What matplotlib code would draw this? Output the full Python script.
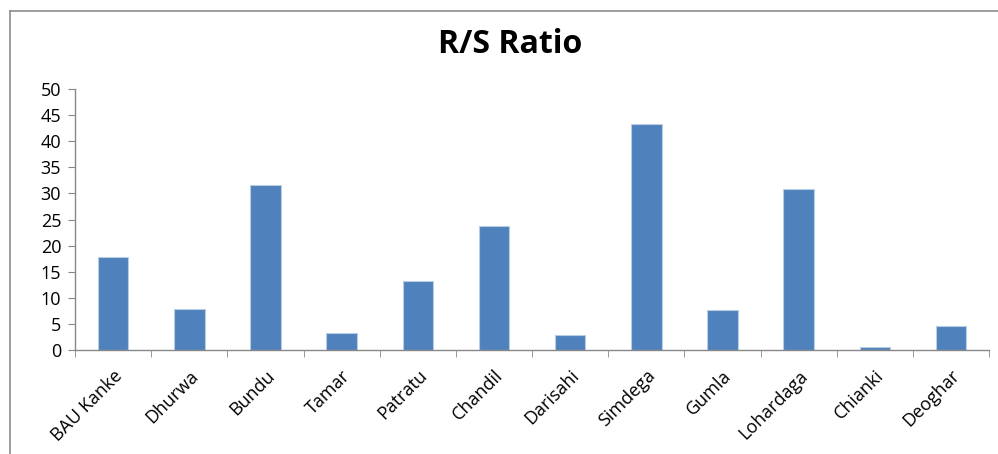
import numpy as np
import matplotlib.pyplot as plt
from matplotlib.lines import Line2D

# values
sites = ['BAU Kanke', 'Dhurwa', 'Bundu', 'Tamar', 'Patratu', 'Chandil',
         'Darisahi', 'Simdega', 'Gumla', 'Lohardaga', 'Chianki', 'Deoghar']
rs_ratio = [17.8, 7.9, 31.6, 3.3, 13.3, 23.7, 2.9, 43.3, 7.7, 30.8, 0.5, 4.6]
y_ticks = [0, 5, 10, 15, 20, 25, 30, 35, 40, 45, 50]

plt.rcParams['font.family'] = ['Open Sans', 'DejaVu Sans']

fig = plt.figure(figsize=(9.98, 4.54), dpi=100)
ax = fig.add_axes([0.0752, 0.229, 0.9158, 0.575])

x = np.arange(len(sites))
ax.bar(x, rs_ratio, width=0.4, color='#4f81bd', edgecolor='#b9cde5', linewidth=0.8)

ax.set_xlim(-0.5, len(sites) - 0.5)
ax.set_ylim(0, 50)
ax.set_yticks(y_ticks)
ax.set_xticks(x)
ax.set_xticklabels(sites, rotation=45, ha='right', rotation_mode='anchor', fontsize=13)
ax.set_xticks(np.arange(len(sites) + 1) - 0.5, minor=True)

ax.tick_params(axis='x', which='major', length=0, pad=12)
ax.tick_params(axis='x', which='minor', length=5, color='#888888', direction='out')
ax.tick_params(axis='y', length=5, color='#888888', direction='out', labelsize=13, pad=5)

for side in ['top', 'right']:
    ax.spines[side].set_visible(False)
for side in ['left', 'bottom']:
    ax.spines[side].set_color('#888888')
    ax.spines[side].set_linewidth(1)

fig.text(0.511, 0.902, 'R/S Ratio', ha='center', va='center', fontsize=23, fontweight='bold')

# chart border (top and left edges are visible in the picture)
fig.add_artist(Line2D([10 / 998, 1], [1 - 11 / 454, 1 - 11 / 454], color='#8c8c8c', lw=1.2, transform=fig.transFigure))
fig.add_artist(Line2D([10 / 998, 10 / 998], [0, 1 - 11 / 454], color='#8c8c8c', lw=1.2, transform=fig.transFigure))

fig.savefig('out.png', dpi=100)
